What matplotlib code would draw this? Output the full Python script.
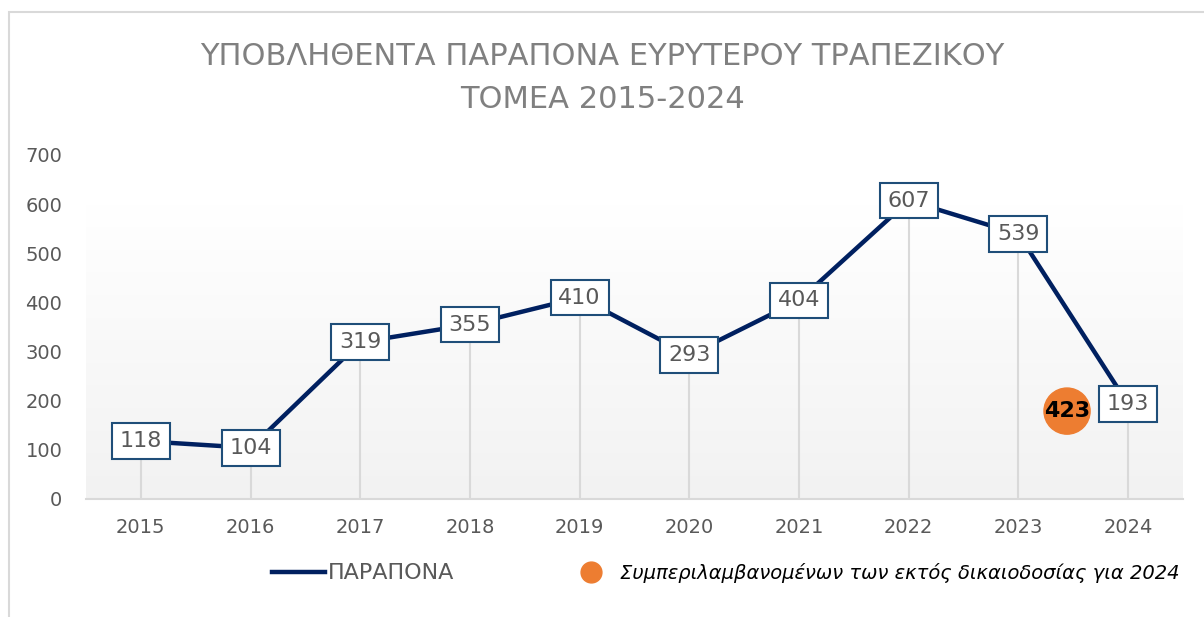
import numpy as np
import matplotlib.pyplot as plt
from matplotlib.lines import Line2D
from matplotlib.patches import Rectangle
from matplotlib.colors import LinearSegmentedColormap

# data
years = ["2015", "2016", "2017", "2018", "2019", "2020", "2021", "2022", "2023", "2024"]
complaints = [118, 104, 319, 355, 410, 293, 404, 607, 539, 193]
extra_2024 = 423  # including those outside jurisdiction
y_ticks = [0, 100, 200, 300, 400, 500, 600, 700]

title = "ΥΠΟΒΛΗΘΕΝΤΑ ΠΑΡΑΠΟΝΑ ΕΥΡΥΤΕΡΟΥ ΤΡΑΠΕΖΙΚΟΥ\nΤΟΜΕΑ 2015-2024"
series_label = "ΠΑΡΑΠΟΝΑ"
extra_label = "Συμπεριλαμβανομένων των εκτός δικαιοδοσίας για 2024"

NAVY = "#002060"
GRAY_TXT = "#595959"
ORANGE = "#ED7D31"

plt.rcParams['font.family'] = ['DejaVu Sans']

fig = plt.figure(figsize=(12.04, 6.17), dpi=100)
ax = fig.add_axes([86 / 1204, 1 - 499 / 617, (1183 - 86) / 1204, (499 - 155) / 617])

xs = np.arange(len(years))

# gradient background of plot area
grad = np.linspace(0, 1, 256).reshape(-1, 1)
cmap = LinearSegmentedColormap.from_list("bg", ["#ffffff", "#f2f2f2"])
ax.imshow(grad, cmap=cmap, extent=[-0.5, len(years) - 0.5, 0, 600], aspect="auto",
          zorder=0, origin="upper")

# drop lines
ax.vlines(xs, 0, complaints, color="#d9d9d9", lw=1.5, zorder=1)

ax.plot(xs, complaints, color=NAVY, lw=3.2, zorder=2, solid_capstyle="round")

for x, v in zip(xs, complaints):
    ax.annotate(str(v), (x, v), ha="center", va="center", fontsize=16, color=GRAY_TXT,
                zorder=3,
                bbox=dict(boxstyle="square,pad=0.35", fc="white", ec="#1F4E79", lw=1.5))

# extra 2024 bubble, placed left of the 2024 label
ax.annotate(str(extra_2024), (xs[-1], complaints[-1]), xytext=(-44, -5),
            textcoords="offset points", ha="center", va="center",
            fontsize=16, fontweight="bold", color="black", zorder=4,
            bbox=dict(boxstyle="circle,pad=0.0", fc=ORANGE, ec=ORANGE))

ax.set_xlim(-0.5, len(years) - 0.5)
ax.set_ylim(0, 700)
ax.set_xticks(xs)
ax.set_xticklabels(years)
ax.set_yticks(y_ticks)
ax.tick_params(axis="x", length=0, pad=14, labelsize=14, labelcolor=GRAY_TXT)
ax.tick_params(axis="y", length=0, pad=17, labelsize=14, labelcolor=GRAY_TXT)
for s in ["top", "right", "left"]:
    ax.spines[s].set_visible(False)
ax.spines["bottom"].set_color("#d9d9d9")
ax.spines["bottom"].set_linewidth(1.5)

fig.text(0.5, 1 - 78 / 617, title, ha="center", va="center", fontsize=22,
         color="#808080", linespacing=1.6)

handles = [
    Line2D([0], [0], color=NAVY, lw=3.2),
    Line2D([0], [0], marker="o", linestyle="none", markersize=15,
           markerfacecolor=ORANGE, markeredgecolor=ORANGE),
]
leg = fig.legend(handles, [series_label, extra_label], loc="center left",
                 bbox_to_anchor=(272 / 1204, 1 - 573 / 617), ncol=2, frameon=False,
                 fontsize=14, handlelength=2.7, handletextpad=0.15, columnspacing=5.7,
                 borderpad=0, borderaxespad=0)
texts = leg.get_texts()
texts[0].set_color(GRAY_TXT)
texts[0].set_fontsize(16)
texts[1].set_color("black")
texts[1].set_fontstyle("italic")

# outer chart border
fig.patches.append(Rectangle((8.5 / 1204, -0.05), 1.1, 1 - 11.5 / 617 + 0.05,
                             transform=fig.transFigure, fill=False,
                             ec="#d9d9d9", lw=1.5))

fig.savefig("out.png", dpi=100)
